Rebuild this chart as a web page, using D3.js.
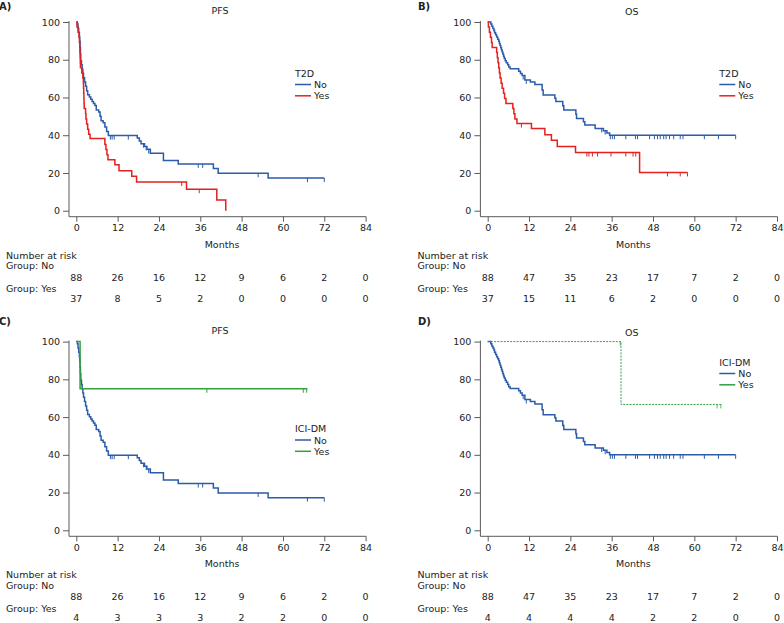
<!DOCTYPE html>
<html><head><meta charset="utf-8">
<script src="https://cdn.jsdelivr.net/npm/d3@7"></script>
<style>
body{margin:0;background:#fff}
text{font-family:"DejaVu Sans",sans-serif;fill:#222;font-size:9.5px}
</style>
</head><body>
<svg id="c" width="784" height="623"></svg>
<script>
// ---------- data ----------
const monthTicks = [0,12,24,36,48,60,72,84];
const survTicks = [0,20,40,60,80,100];

// PFS, T2D = No (also ICI-DM = No)
const pfsNo = [[0,100],[0.3,98.9],[0.5,96.6],[0.7,94.3],[0.9,92],[1.0,89.8],[1.1,86.4],[1.2,83],[1.3,79.5],[1.5,77.3],[1.7,75],[1.9,72.7],[2.1,70.5],[2.4,68.2],[2.7,65.9],[3.0,63.6],[3.3,61.4],[3.8,60.2],[4.2,59],[4.6,57.9],[5.0,56.8],[5.4,55.7],[5.8,53.4],[6.5,52.3],[6.9,50],[7.2,47.7],[7.8,46.6],[8.3,44.3],[8.8,42],[9.3,39.8],[17.7,38.5],[18.3,37],[18.8,35.5],[19.8,34],[20.5,32.5],[21.5,30.5],[25.3,26.6],[29.6,24.8],[39.8,22.4],[41.2,19.8],[55.7,17.3],[72,17.3]];
const pfsNoCens = [9.9,10.4,11.0,15.1,19.5,20.3,21.0,35.4,36.7,52.8,67.1,72];

// PFS, T2D = Yes
const pfsT2dYes = [[0,100],[0.2,97.3],[0.5,94.6],[0.8,91.9],[0.9,89.2],[1.0,86.5],[1.05,83.8],[1.1,81.1],[1.15,78.4],[1.2,75.7],[1.6,73],[1.9,70.3],[2.05,67.6],[2.1,64.9],[2.15,62.2],[2.2,59.5],[2.25,56.8],[2.3,54.1],[2.7,51.4],[2.8,48.6],[3.0,45.9],[3.3,43.2],[3.6,40.5],[4.0,38.2],[8.3,35.1],[8.6,32.4],[8.9,29.7],[9.2,27],[11.2,24.3],[12.4,21.2],[16.1,18.2],[17.5,15.2],[32,11.4],[40.8,5.7],[43.4,0]];
const pfsT2dYesCens = [30.6,35.7];

// OS, T2D = No (also ICI-DM = No)
const osNo = [[0,100],[0.9,98.9],[1.2,97.7],[1.5,96.6],[1.8,95.5],[2.0,94.3],[2.3,93.2],[2.6,92],[2.9,90.9],[3.2,89.8],[3.4,88.6],[3.6,87.5],[3.8,86.4],[4.0,85.2],[4.2,84.1],[4.4,83],[4.6,81.8],[4.8,80.7],[5.1,79.5],[5.4,78.4],[5.8,77.3],[6.1,76.1],[6.5,75.2],[9.0,73.9],[9.5,72.7],[10.0,71.6],[10.8,69.3],[12.4,68.2],[13.7,66.9],[15.8,63.9],[16.1,61.3],[19.5,59.6],[19.8,57.9],[21.8,55.6],[22.1,53.4],[25.6,51.1],[25.8,48.9],[27.8,47.1],[28.2,45.4],[31.2,43.6],[33.6,42.4],[34.6,41.2],[35.4,40],[72,40]];
const osNoCens = [10.3,11.2,33.1,34.1,35.6,36.2,36.8,40.1,42.9,43.5,47,48.4,49.3,50.1,51.1,51.8,52.8,54,55.9,56.7,62.9,67,72];

// OS, T2D = Yes
const osT2dYes = [[0,100],[0.2,97.3],[0.5,94.6],[0.8,91.9],[1.1,89.2],[1.3,86.5],[2.6,83.8],[2.8,81.1],[3.0,78.4],[3.2,75.7],[3.4,73],[3.6,70.3],[3.9,67.6],[4.2,64.9],[4.6,62.2],[4.9,59.5],[5.3,56.8],[7.3,54.1],[7.6,51.4],[7.9,48.6],[8.5,46.2],[12.7,43.5],[16.6,40.3],[18.5,37.4],[20.2,34],[25.5,30.8],[44.1,20.3],[58,20.3]];
const osT2dYesCens = [9.8,28.8,29.4,30.4,31.9,35.8,40.1,42.2,43.0,52.2,55.9,58];

// PFS, ICI-DM = Yes
const pfsIciYes = [[0,100],[1.1,75],[67.1,75]];
const pfsIciYesCens = [37.9,65.9,66.9];

// OS, ICI-DM = Yes
const osIciYes = [[0,100],[38.7,66.7],[68,66.7]];
const osIciYesCens = [38.5,66.6,67.7];

// numbers at risk
const riskA_No = [88,26,16,12,9,6,2,0];
const riskA_Yes = [37,8,5,2,0,0,0,0];
const riskB_No = [88,47,35,23,17,7,2,0];
const riskB_Yes = [37,15,11,6,2,0,0,0];
const riskC_No = [88,26,16,12,9,6,2,0];
const riskC_Yes = [4,3,3,3,2,2,0,0];
const riskD_No = [88,47,35,23,17,7,2,0];
const riskD_Yes = [4,4,4,4,2,2,0,0];

const BLUE = "#2c5ba9", RED = "#e3211f", GREEN = "#35a040";

// ---------- drawing ----------
const svg = d3.select("#c");

function survAt(steps, t){
  let v = steps[0][1];
  for (const s of steps){ if (s[0] <= t) v = s[1]; else break; }
  return v;
}

function panel(o){
  const g = svg.append("g").attr("transform", `translate(${o.dx},${o.dy})`);
  const x = d3.scaleLinear().domain([0,84]).range([76.3,365.6]);
  const y = d3.scaleLinear().domain([0,100]).range([210.7,22]);
  const axX = 69, axY = 216.7;

  g.append("line").attr("x1",axX).attr("x2",axX).attr("y1",y(100)-1).attr("y2",axY)
    .attr("stroke","#5a5a5a").attr("stroke-width",1);
  g.append("line").attr("x1",axX).attr("x2",x(84)+0.5).attr("y1",axY).attr("y2",axY)
    .attr("stroke","#5a5a5a").attr("stroke-width",1);

  const ya = g.append("g").attr("transform",`translate(${axX},0)`)
    .call(d3.axisLeft(y).tickValues(survTicks).tickSize(6).tickPadding(3).tickSizeOuter(0));
  ya.select(".domain").remove();
  ya.selectAll("line").attr("stroke","#5a5a5a");
  ya.selectAll("text").style("font-size","9.5px").style("font-family","DejaVu Sans").attr("fill","#222");

  const xa = g.append("g").attr("transform",`translate(0,${axY})`)
    .call(d3.axisBottom(x).tickValues(monthTicks).tickSize(5).tickPadding(2.5).tickSizeOuter(0));
  xa.select(".domain").remove();
  xa.selectAll("line").attr("stroke","#5a5a5a");
  xa.selectAll("text").style("font-size","9.5px").style("font-family","DejaVu Sans").attr("fill","#222");

  g.append("text").attr("x",222).attr("y",247.5).attr("text-anchor","middle").text("Months");

  g.append("text").attr("x",o.titleX).attr("y",o.titleY).attr("text-anchor","middle").text(o.title);

  const line = d3.line().x(d=>x(d[0])).y(d=>y(d[1])).curve(d3.curveStepAfter);
  o.curves.forEach(c=>{
    g.append("path").attr("d", line(c.steps)).attr("fill","none")
      .attr("stroke",c.color).attr("stroke-width",c.dash?1:1.5)
      .attr("stroke-dasharray",c.dash||null);
    g.selectAll(null).data(c.cens).enter().append("line")
      .attr("x1",d=>x(d)).attr("x2",d=>x(d))
      .attr("y1",d=>y(survAt(c.steps,d))).attr("y2",d=>y(survAt(c.steps,d))+4)
      .attr("stroke",c.color).attr("stroke-width",c.dash?0.8:1);
  });

  const lg = svg.append("g").attr("transform",`translate(${o.legX},${o.legY})`);
  lg.append("text").attr("x",0).attr("y",3.5).text(o.legTitle);
  o.curves.forEach((c,i)=>{
    const yy = 11.5 + i*11.3;
    lg.append("line").attr("x1",0).attr("x2",16).attr("y1",yy).attr("y2",yy)
      .attr("stroke",c.color).attr("stroke-width",1.5);
    lg.append("text").attr("x",19).attr("y",yy+3.5).text(c.name);
  });

  g.append("text").attr("x",o.riskX).attr("y",258.5).text("Number at risk");
  g.append("text").attr("x",o.riskX).attr("y",269.3).text("Group: No");
  g.append("text").attr("x",o.riskX).attr("y",292).text("Group: Yes");
  g.selectAll(null).data(o.riskNo).enter().append("text")
    .attr("x",(d,i)=>x(monthTicks[i])).attr("y",280.8).attr("text-anchor","middle").text(d=>d);
  g.selectAll(null).data(o.riskYes).enter().append("text")
    .attr("x",(d,i)=>x(monthTicks[i])).attr("y",301.6).attr("text-anchor","middle").text(d=>d);

  svg.append("text").attr("x",o.letX).attr("y",o.letY).style("font-weight","bold")
    .style("font-size","10px").text(o.letter);
}

panel({dx:0,dy:0,letter:"A)",letX:-1,letY:10,title:"PFS",titleX:220,titleY:13.5,
  legTitle:"T2D",legX:295,legY:73,riskX:6,riskNo:riskA_No,riskYes:riskA_Yes,
  curves:[{name:"No",color:BLUE,steps:pfsNo,cens:pfsNoCens},
          {name:"Yes",color:RED,steps:pfsT2dYes,cens:pfsT2dYesCens}]});

panel({dx:411.4,dy:0,letter:"B)",letX:418,letY:10,title:"OS",titleX:220.3,titleY:15,
  legTitle:"T2D",legX:719.3,legY:73,riskX:6,riskNo:riskB_No,riskYes:riskB_Yes,
  curves:[{name:"No",color:BLUE,steps:osNo,cens:osNoCens},
          {name:"Yes",color:RED,steps:osT2dYes,cens:osT2dYesCens}]});

panel({dx:0,dy:319.6,letter:"C)",letX:-1,letY:325,title:"PFS",titleX:220,titleY:14,
  legTitle:"ICI-DM",legX:295,legY:428.5,riskX:6,riskNo:riskC_No,riskYes:riskC_Yes,
  curves:[{name:"No",color:BLUE,steps:pfsNo,cens:pfsNoCens},
          {name:"Yes",color:GREEN,steps:pfsIciYes,cens:pfsIciYesCens}]});

panel({dx:411.4,dy:319.6,letter:"D)",letX:418,letY:325,title:"OS",titleX:220.3,titleY:16,
  legTitle:"ICI-DM",legX:719.3,legY:362,riskX:6,riskNo:riskD_No,riskYes:riskD_Yes,
  curves:[{name:"No",color:BLUE,steps:osNo,cens:osNoCens},
          {name:"Yes",color:GREEN,steps:osIciYes,cens:osIciYesCens,dash:"2,1.2"}]});
</script>
</body></html>
